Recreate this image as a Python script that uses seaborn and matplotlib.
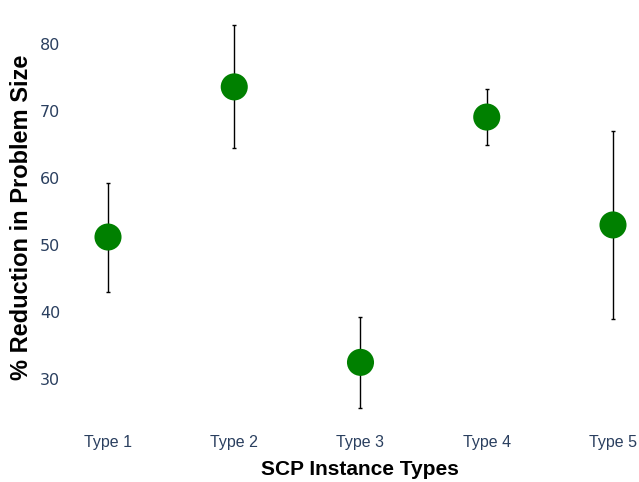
import matplotlib
matplotlib.use("Agg")
import matplotlib.pyplot as plt
import seaborn as sns
import numpy as np
import pandas as pd

# values
types = ["Type 1", "Type 2", "Type 3", "Type 4", "Type 5"]
reduction = [51.2, 73.6, 32.5, 69.1, 53.0]
upper = [59.3, 82.8, 39.3, 73.3, 67.0]
lower = [43.0, 64.5, 25.7, 64.9, 39.0]
y_ticks = [30, 40, 50, 60, 70, 80]

df = pd.DataFrame({"type": types, "reduction": reduction})

sns.set_style("white")
fig = plt.figure(figsize=(6.39, 4.82), dpi=100)
ax = fig.add_axes([70 / 639, 1 - 420 / 482, (639 - 70) / 639, 410 / 482])

yerr = np.array([np.array(reduction) - np.array(lower),
                 np.array(upper) - np.array(reduction)])
ax.errorbar(types, reduction, yerr=yerr, fmt="none", ecolor="black",
            elinewidth=1.0, capsize=1.5, capthick=1.0, zorder=1)
sns.scatterplot(data=df, x="type", y="reduction", color="#008000", s=380,
                edgecolor="none", ax=ax, zorder=2)

ax.set_xlim(-0.301, 4.206)
ax.set_ylim(23.9, 85.07)
ax.set_yticks(y_ticks)
for s in ax.spines.values():
    s.set_visible(False)
ax.tick_params(length=0)
ax.tick_params(axis="y", colors="#2a3f5f", labelsize=11.5, pad=7)
ax.tick_params(axis="x", colors="#2a3f5f", labelsize=11.5, pad=11)
for lab in ax.get_xticklabels():
    lab.set_family("Liberation Sans")
for lab in ax.get_yticklabels():
    lab.set_family("DejaVu Sans")

ax.set_xlabel("SCP Instance Types", fontsize=15, fontweight="bold",
              family="Liberation Sans", color="black")
ax.set_ylabel("% Reduction in Problem Size", fontsize=17, fontweight="bold",
              family="Liberation Sans", color="black")
ax.xaxis.set_label_coords((360 - 70) / 569, (420 - 460) / 410)
ax.yaxis.set_label_coords((33 - 70) / 569, (420 - 217) / 410)

fig.savefig("out.png", dpi=100)
